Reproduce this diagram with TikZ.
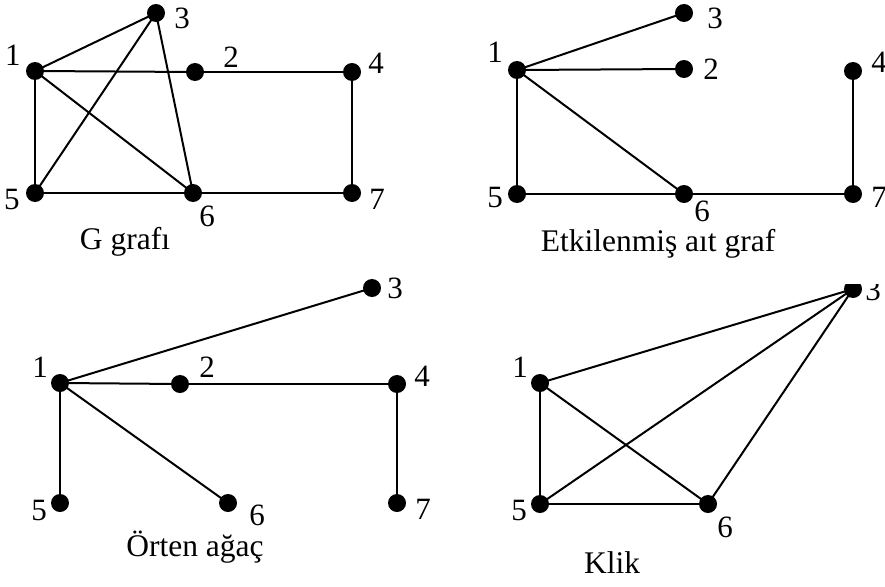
\documentclass[tikz,border=0pt]{standalone}
\usepackage{fontspec}
\setmainfont{Liberation Serif}
\begin{document}
\begin{tikzpicture}[x=1pt,y=-1pt,
  dot/.style={circle,fill=black,inner sep=0pt,minimum size=18pt},
  lbl/.style={inner sep=0pt,font=\fontsize{31}{34}\selectfont},
  ttl/.style={inner sep=0pt,anchor=base,font=\fontsize{31.5}{34}\selectfont},
  edge/.style={line width=2pt}]
\useasboundingbox (0,0) rectangle (885,586);
% ---------- G grafi ----------
\node[dot] (a1) at (35,71) {};
\node[dot] (a2) at (195,72) {};
\node[dot] (a3) at (156,13) {};
\node[dot] (a4) at (352,72) {};
\node[dot] (a5) at (35,193) {};
\node[dot] (a6) at (193,193) {};
\node[dot] (a7) at (352,193) {};
\draw[edge] (a1.center) -- (a3.center);
\draw[edge] (a1.center) -- (a2.center);
\draw[edge] (a2.center) -- (a4.center);
\draw[edge] (a1.center) -- (a5.center);
\draw[edge] (a1.center) -- (a6.center);
\draw[edge] (a5.center) -- (a3.center);
\draw[edge] (a3.center) -- (a6.center);
\draw[edge] (a5.center) -- (a6.center);
\draw[edge] (a6.center) -- (a7.center);
\draw[edge] (a4.center) -- (a7.center);
\node[lbl] (la1) at (13,55) {1};
\node[lbl] (la3) at (182,18) {3};
\node[lbl] (la2) at (231,57) {2};
\node[lbl] (la4) at (376,63) {4};
\node[lbl] (la5) at (12,199) {5};
\node[lbl] (la6) at (207,216) {6};
\node[lbl] (la7) at (377,199) {7};
\node[ttl] (ta) at (125,249) {G grafı};
% ---------- Etkilenmis alt graf ----------
\node[dot] (b1) at (517,70) {};
\node[dot] (b2) at (684,69) {};
\node[dot] (b3) at (684,13) {};
\node[dot] (b4) at (853,71) {};
\node[dot] (b5) at (517,194) {};
\node[dot] (b6) at (684,194) {};
\node[dot] (b7) at (853,194) {};
\draw[edge] (b1.center) -- (b3.center);
\draw[edge] (b1.center) -- (b2.center);
\draw[edge] (b1.center) -- (b5.center);
\draw[edge] (b1.center) -- (b6.center);
\draw[edge] (b5.center) -- (b6.center);
\draw[edge] (b6.center) -- (b7.center);
\draw[edge] (b4.center) -- (b7.center);
\node[lbl] (lb1) at (495,52) {1};
\node[lbl] (lb3) at (715,18) {3};
\node[lbl] (lb2) at (711,69) {2};
\node[lbl] (lb4) at (879,62) {4};
\node[lbl] (lb5) at (495,198) {5};
\node[lbl] (lb6) at (702,211) {6};
\node[lbl] (lb7) at (879,197) {7};
\node[ttl] (tb) at (658,251) {Etkilenmiş aıt graf};
% ---------- Orten agac ----------
\node[dot] (c1) at (60,383) {};
\node[dot] (c2) at (180,384) {};
\node[dot] (c3) at (372,288) {};
\node[dot] (c4) at (397,384) {};
\node[dot] (c5) at (60,503) {};
\node[dot] (c6) at (228,503) {};
\node[dot] (c7) at (397,503) {};
\draw[edge] (c1.center) -- (c3.center);
\draw[edge] (c1.center) -- (c2.center);
\draw[edge] (c2.center) -- (c4.center);
\draw[edge] (c1.center) -- (c5.center);
\draw[edge] (c1.center) -- (c6.center);
\draw[edge] (c4.center) -- (c7.center);
\node[lbl] (lc1) at (40,367) {1};
\node[lbl] (lc3) at (395,288) {3};
\node[lbl] (lc2) at (207,367) {2};
\node[lbl] (lc4) at (422,376) {4};
\node[lbl] (lc5) at (39,510) {5};
\node[lbl] (lc6) at (257,515) {6};
\node[lbl] (lc7) at (423,509) {7};
\node[ttl] (tc) at (195,556) {Örten ağaç};
% ---------- Klik ----------
\begin{scope}
\clip (470,284) rectangle (885,586);
\node[dot] (d1) at (540,383) {};
\node[dot] (d3) at (853,289) {};
\node[dot] (d5) at (540,504) {};
\node[dot] (d6) at (708,504) {};
\draw[edge] (d1.center) -- (d3.center);
\draw[edge] (d1.center) -- (d5.center);
\draw[edge] (d1.center) -- (d6.center);
\draw[edge] (d5.center) -- (d3.center);
\draw[edge] (d5.center) -- (d6.center);
\draw[edge] (d6.center) -- (d3.center);
\node[lbl] (ld3) at (873,290) {3};
\end{scope}
\node[lbl] (ld1) at (520,367) {1};
\node[lbl] (ld5) at (519,510) {5};
\node[lbl] (ld6) at (725,527) {6};
\node[ttl] (td) at (612,573) {Klik};
\end{tikzpicture}
\end{document}
